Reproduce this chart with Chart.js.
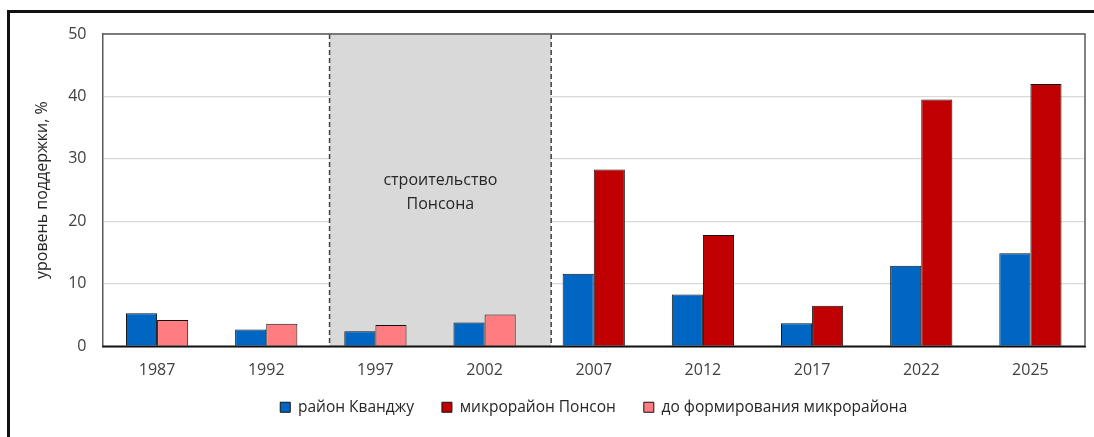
<!DOCTYPE html>
<html>
<head>
<meta charset="utf-8">
<script src="https://cdn.jsdelivr.net/npm/chart.js@4"></script>
<style>
    html, body { margin: 0; padding: 0; background: #fff; overflow: hidden; }
    #wrap { position: relative; width: 1094px; height: 437px; }
    #frame { position: absolute; left: 7px; top: 10px; width: 1200px; height: 500px;
             border-top: 3px solid #111; border-left: 3px solid #111; }
    #box { position: absolute; left: 0; top: 0; width: 1094px; height: 437px; }
</style>
</head>
<body>
<div id="wrap">
    <div id="frame"></div>
    <div id="box"><canvas id="grafico"></canvas></div>
</div>
<script>
const anios = ['1987', '1992', '1997', '2002', '2007', '2012', '2017', '2022', '2025'];
const kvandzhu = [5.3, 2.7, 2.4, 3.8, 11.6, 8.3, 3.7, 12.9, 14.9];
const ponson = [4.2, 3.6, 3.4, 5.1, 28.3, 17.8, 6.5, 39.5, 42.0];
const antesFormacion = [true, true, true, true, false, false, false, false, false];
const ticksY = [0, 10, 20, 30, 40, 50];
const leyenda = ['район Кванджу', 'микрорайон Понсон', 'до формирования микрорайона'];
// periodo de construccion (en indices de categoria)
const construccion = { desde: 1.58, hasta: 3.61, texto: ['строительство', 'Понсона'] };

const AZUL = '#0066C4';
const ROJO = '#C00000';
const ROSA = '#FF7C80';
const FUENTE = "'Open Sans', 'Noto Sans', 'DejaVu Sans', sans-serif";
const SUBIR_LEYENDA = 16;

const coloresPonson = antesFormacion.map(function (v) { return v ? ROSA : ROJO; });

const pluginConstruccion = {
    id: 'construccion',
    afterLayout: function (chart) {
        // centrar la leyenda respecto al area del grafico y acercarla al eje
        const lg = chart.legend;
        lg.left = chart.chartArea.left;
        lg.right = chart.chartArea.right;
        lg.top -= SUBIR_LEYENDA;
        lg.bottom -= SUBIR_LEYENDA;
    },
    beforeDatasetsDraw: function (chart) {
        const ctx = chart.ctx;
        const x = chart.scales.x;
        const area = chart.chartArea;
        const x1 = x.getPixelForValue(construccion.desde);
        const x2 = x.getPixelForValue(construccion.hasta);
        ctx.save();
        ctx.fillStyle = '#D9D9D9';
        ctx.fillRect(x1, area.top, x2 - x1, area.bottom - area.top);
        ctx.strokeStyle = '#404040';
        ctx.lineWidth = 1.5;
        ctx.setLineDash([5, 3]);
        [x1, x2].forEach(function (px) {
            ctx.beginPath();
            ctx.moveTo(px, area.top);
            ctx.lineTo(px, area.bottom);
            ctx.stroke();
        });
        ctx.setLineDash([]);
        ctx.fillStyle = '#262626';
        ctx.font = '16px ' + FUENTE;
        ctx.textAlign = 'center';
        ctx.textBaseline = 'middle';
        const y = chart.scales.y;
        const yc = y.getPixelForValue(24.7);
        ctx.fillText(construccion.texto[0], (x1 + x2) / 2, yc - 12);
        ctx.fillText(construccion.texto[1], (x1 + x2) / 2, yc + 12);
        ctx.restore();
    },
    afterDraw: function (chart) {
        const ctx = chart.ctx;
        const area = chart.chartArea;
        ctx.save();
        ctx.strokeStyle = '#595959';
        ctx.lineWidth = 1.5;
        ctx.beginPath();
        ctx.moveTo(area.left, area.top);
        ctx.lineTo(area.right, area.top);
        ctx.lineTo(area.right, area.bottom);
        ctx.stroke();
        ctx.strokeStyle = '#111';
        ctx.beginPath();
        ctx.moveTo(area.left, area.bottom);
        ctx.lineTo(area.right, area.bottom);
        ctx.stroke();
        ctx.restore();
    }
};

new Chart(document.getElementById('grafico'), {
    type: 'bar',
    plugins: [pluginConstruccion],
    data: {
        labels: anios,
        datasets: [
            {
                label: leyenda[0],
                data: kvandzhu,
                backgroundColor: AZUL,
                borderColor: '#111',
                borderWidth: 1
            },
            {
                label: leyenda[1],
                data: ponson,
                backgroundColor: coloresPonson,
                borderColor: '#111',
                borderWidth: 1
            }
        ]
    },
    options: {
        responsive: true,
        maintainAspectRatio: false,
        animation: false,
        categoryPercentage: 0.57,
        barPercentage: 1.0,
        layout: { padding: { top: 34, left: 29, right: 9, bottom: -4 } },
        scales: {
            x: {
                grid: { display: false },
                border: { color: '#111', width: 1.5 },
                ticks: { color: '#404040', font: { family: FUENTE, size: 16 }, padding: 7 }
            },
            y: {
                min: 0,
                max: 50,
                afterBuildTicks: function (axis) {
                    axis.ticks = ticksY.map(function (v) { return { value: v }; });
                },
                grid: { color: '#D9D9D9', lineWidth: 1.2, drawTicks: false },
                border: { color: '#595959', width: 1.5 },
                ticks: { color: '#404040', font: { family: FUENTE, size: 16 }, padding: 16 },
                title: {
                    display: true,
                    text: 'уровень поддержки, %',
                    color: '#262626',
                    font: { family: FUENTE, size: 16 },
                    padding: { top: 4, bottom: 0 }
                }
            }
        },
        plugins: {
            tooltip: { enabled: false },
            legend: {
                position: 'bottom',
                labels: {
                    color: '#262626',
                    font: { family: FUENTE, size: 15.5 },
                    boxWidth: 10,
                    boxHeight: 10,
                    padding: 28,
                    generateLabels: function () {
                        return [AZUL, ROJO, ROSA].map(function (c, i) {
                            return { text: leyenda[i], fillStyle: c, strokeStyle: '#111', lineWidth: 1, hidden: false, fontColor: '#262626' };
                        });
                    }
                }
            }
        }
    }
});
</script>
</body>
</html>
